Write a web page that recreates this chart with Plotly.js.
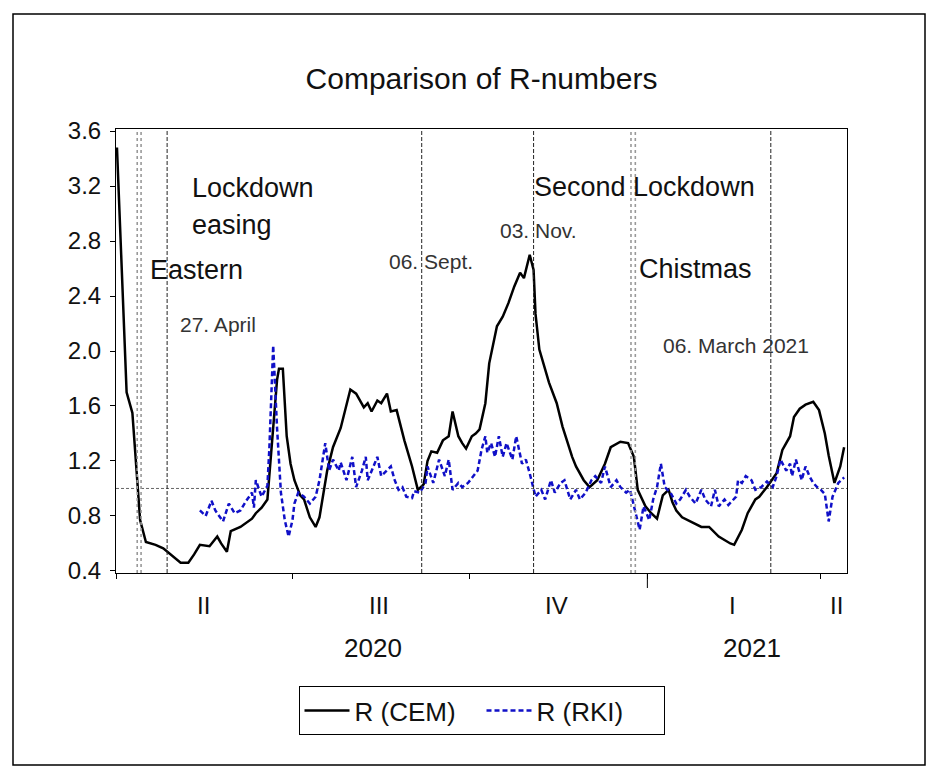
<!DOCTYPE html>
<html>
<head>
<meta charset="utf-8">
<script src="https://cdn.plot.ly/plotly-3.0.1.min.js"></script>
<style>html,body{margin:0;padding:0;background:#fff;}#chart{width:929px;height:767px;}</style>
</head>
<body>
<div id="chart"></div>
<script>
// ---- Data ----
const cemDates = ['2020-04-01','2020-04-04','2020-04-06','2020-04-09','2020-04-11','2020-04-13','2020-04-16','2020-04-21','2020-04-25','2020-04-29',
'2020-05-04','2020-05-08','2020-05-11','2020-05-14','2020-05-19','2020-05-23','2020-05-25','2020-05-28','2020-05-30',
'2020-06-04','2020-06-07','2020-06-10','2020-06-12','2020-06-15','2020-06-18','2020-06-20','2020-06-23','2020-06-24','2020-06-26','2020-06-28','2020-06-30',
'2020-07-02','2020-07-05','2020-07-07','2020-07-10','2020-07-13','2020-07-15','2020-07-19','2020-07-22','2020-07-26','2020-07-28','2020-07-31',
'2020-08-03','2020-08-07','2020-08-09','2020-08-11','2020-08-14','2020-08-16','2020-08-19','2020-08-21','2020-08-24','2020-08-28',
'2020-09-01','2020-09-04','2020-09-07','2020-09-09','2020-09-11','2020-09-14','2020-09-17','2020-09-20','2020-09-22','2020-09-25','2020-09-27','2020-09-29',
'2020-10-02','2020-10-04','2020-10-06','2020-10-09','2020-10-11','2020-10-15','2020-10-18','2020-10-21','2020-10-24','2020-10-27','2020-10-29',
'2020-11-01','2020-11-03','2020-11-04','2020-11-06','2020-11-09','2020-11-11','2020-11-15','2020-11-18','2020-11-23','2020-11-25','2020-11-29',
'2020-12-02','2020-12-06','2020-12-10','2020-12-13','2020-12-18','2020-12-22','2020-12-25','2020-12-27','2020-12-31',
'2021-01-03','2021-01-06','2021-01-09','2021-01-12','2021-01-14','2021-01-16','2021-01-19','2021-01-25','2021-01-29',
'2021-02-02','2021-02-07','2021-02-13','2021-02-15','2021-02-19','2021-02-22','2021-02-26','2021-02-28',
'2021-03-04','2021-03-09','2021-03-12','2021-03-16','2021-03-18','2021-03-21','2021-03-24','2021-03-28','2021-03-31',
'2021-04-03','2021-04-05','2021-04-08','2021-04-11','2021-04-13'];
const cemValues = [3.48,2.38,1.70,1.55,1.15,0.77,0.61,0.59,0.565,0.52,
0.46,0.46,0.52,0.59,0.58,0.65,0.60,0.54,0.69,
0.72,0.75,0.78,0.82,0.86,0.92,1.26,1.79,1.87,1.87,1.38,1.18,
1.06,0.95,0.92,0.79,0.72,0.79,1.13,1.30,1.44,1.55,1.72,
1.69,1.59,1.62,1.56,1.64,1.62,1.69,1.56,1.57,1.35,
1.16,0.99,1.03,1.20,1.27,1.26,1.35,1.38,1.56,1.38,1.33,1.29,
1.38,1.40,1.43,1.62,1.91,2.18,2.25,2.35,2.47,2.57,2.53,
2.70,2.59,2.27,2.01,1.86,1.77,1.62,1.45,1.23,1.16,1.06,
1.01,1.06,1.18,1.30,1.34,1.33,1.23,0.99,0.87,
0.82,0.78,0.95,0.99,0.90,0.84,0.79,0.75,0.72,
0.72,0.65,0.60,0.59,0.70,0.82,0.92,0.94,
1.01,1.11,1.28,1.38,1.52,1.58,1.61,1.63,1.57,
1.40,1.24,1.04,1.16,1.30];

const rkiDates = ['2020-05-14','2020-05-17','2020-05-20','2020-05-22','2020-05-26','2020-05-29',
'2020-06-01','2020-06-04','2020-06-07','2020-06-10','2020-06-11','2020-06-12','2020-06-15','2020-06-18','2020-06-19','2020-06-21','2020-06-23','2020-06-25','2020-06-27','2020-06-29',
'2020-07-01','2020-07-02','2020-07-04','2020-07-07','2020-07-10','2020-07-13','2020-07-15','2020-07-18','2020-07-20','2020-07-22','2020-07-25','2020-07-26','2020-07-29',
'2020-08-01','2020-08-03','2020-08-06','2020-08-08','2020-08-09','2020-08-12','2020-08-14','2020-08-16','2020-08-19','2020-08-21','2020-08-23','2020-08-25','2020-08-27','2020-08-29',
'2020-09-01','2020-09-02','2020-09-05','2020-09-08','2020-09-09','2020-09-12','2020-09-15','2020-09-18','2020-09-20','2020-09-22','2020-09-25','2020-09-27','2020-09-30',
'2020-10-03','2020-10-05','2020-10-07','2020-10-09','2020-10-10','2020-10-12','2020-10-14','2020-10-16','2020-10-18','2020-10-20','2020-10-23','2020-10-25','2020-10-28','2020-10-30',
'2020-11-01','2020-11-03','2020-11-04','2020-11-07','2020-11-09','2020-11-12','2020-11-14','2020-11-17','2020-11-19','2020-11-22','2020-11-25','2020-11-27','2020-11-30',
'2020-12-03','2020-12-05','2020-12-08','2020-12-10','2020-12-13','2020-12-16','2020-12-18','2020-12-21','2020-12-23','2020-12-26','2020-12-28','2020-12-30',
'2021-01-02','2021-01-04','2021-01-06','2021-01-08','2021-01-10','2021-01-13','2021-01-16','2021-01-18','2021-01-21','2021-01-23','2021-01-26','2021-01-29','2021-01-31',
'2021-02-03','2021-02-05','2021-02-07','2021-02-10','2021-02-12','2021-02-16','2021-02-17','2021-02-19','2021-02-21','2021-02-24','2021-02-26',
'2021-03-01','2021-03-04','2021-03-07','2021-03-09','2021-03-11','2021-03-14','2021-03-16','2021-03-17','2021-03-19','2021-03-22','2021-03-24','2021-03-26','2021-03-28','2021-03-30',
'2021-04-01','2021-04-03','2021-04-05','2021-04-07','2021-04-09','2021-04-10','2021-04-13'];
const rkiValues = [0.84,0.80,0.91,0.84,0.76,0.89,
0.82,0.84,0.91,0.97,0.86,1.06,0.94,1.02,1.29,2.04,1.44,0.97,0.77,0.65,
0.77,0.89,0.97,0.94,0.89,0.94,1.06,1.33,1.13,1.21,1.13,1.19,1.06,
1.23,1.01,1.13,1.23,1.06,1.16,1.23,1.09,1.13,1.16,1.06,0.99,1.01,0.94,
0.93,0.98,0.97,1.04,1.16,1.04,1.21,1.09,1.21,0.99,1.04,1.01,1.04,
1.09,1.13,1.28,1.38,1.26,1.33,1.23,1.38,1.23,1.33,1.21,1.38,1.18,1.21,
1.11,1.01,0.94,0.99,0.92,1.06,0.97,1.04,1.06,0.92,0.99,0.92,0.97,
1.06,1.09,1.04,1.16,1.01,1.06,1.01,0.97,0.99,0.82,0.70,0.87,
0.77,0.92,1.01,1.18,1.01,0.97,0.89,0.92,0.99,0.94,0.89,0.99,0.92,
0.87,0.99,0.87,0.92,0.88,0.94,1.06,1.04,1.09,1.06,0.99,
1.01,1.05,1.01,1.09,1.21,1.13,1.18,1.09,1.21,1.06,1.16,1.09,1.04,1.01,
0.99,0.96,0.76,0.94,1.01,1.04,1.08];

const seriesNames = ['R (CEM)', 'R (RKI)'];
const yTicks = [0.4, 0.8, 1.2, 1.6, 2.0, 2.4, 2.8, 3.2, 3.6];
const quarterStarts = ['2020-04-01','2020-07-01','2020-10-01','2021-01-01','2021-04-01'];
const quarterLabels = ['II','III','IV','I','II'];
const quarterLabelPos = ['2020-05-16','2020-08-15','2020-11-15','2021-02-14','2021-04-09'];
const yearLabels = ['2020','2021'];
const yearLabelPos = ['2020-08-12','2021-02-24'];
const yearBoundary = '2021-01-01';
const referenceLevel = 1.0;
const eventLines = ['2020-04-27','2020-09-06','2020-11-03','2021-03-06'];
const holidayLines = ['2020-04-11T12:00','2020-04-13T12:00','2020-12-23T12:00','2020-12-25T18:00'];
// event texts: [text, date, level, size]
const eventTexts = [
  ['Lockdown', '2020-05-09T00:00', 3.185, 'big'],
  ['easing', '2020-05-09T00:00', 2.92, 'big'],
  ['Eastern', '2020-04-17T06:00', 2.59, 'big'],
  ['27. April', '2020-05-02T18:00', 2.19, 'small'],
  ['06. Sept.', '2020-08-19T00:00', 2.65, 'small'],
  ['03. Nov.', '2020-10-15T12:00', 2.88, 'small'],
  ['Second Lockdown', '2020-11-02T06:00', 3.19, 'big'],
  ['Chistmas', '2020-12-26T12:00', 2.60, 'big'],
  ['06. March 2021', '2021-01-08T00:00', 2.04, 'small']
];

// ---- Chart ----
const FONT = 'Liberation Sans, Arial, Helvetica, sans-serif';
const plotH = 767 - 129 - 194;

const traces = [
  {x: cemDates, y: cemValues, name: seriesNames[0], type: 'scatter', mode: 'lines',
   line: {color: '#000000', width: 2.5}},
  {x: rkiDates, y: rkiValues, name: seriesNames[1], type: 'scatter', mode: 'lines',
   line: {color: '#1010c8', width: 2.5, dash: '5px,3px'}}
];

const shapes = [];
shapes.push({type: 'line', xref: 'paper', yref: 'y', x0: 0, x1: 1, y0: referenceLevel, y1: referenceLevel,
  line: {color: '#666', width: 1, dash: '3px,2px'}, layer: 'below'});
eventLines.forEach(d => shapes.push({type: 'line', xref: 'x', yref: 'paper', x0: d, x1: d, y0: 0, y1: 1,
  line: {color: '#222', width: 1, dash: '4px,2px'}}));
holidayLines.forEach(d => shapes.push({type: 'line', xref: 'x', yref: 'paper', x0: d, x1: d, y0: 0, y1: 1,
  line: {color: '#999', width: 1.6, dash: 'dot'}}));
shapes.push({type: 'line', xref: 'x', yref: 'paper', x0: yearBoundary, x1: yearBoundary, y0: 0, y1: -15 / plotH,
  line: {color: '#000', width: 1}});
// outer frame
shapes.push({type: 'rect', xref: 'paper', yref: 'paper',
  x0: (13 - 116) / 731, x1: (925 - 116) / 731, y0: (573 - 765) / plotH, y1: (573 - 14) / plotH,
  line: {color: '#000', width: 1.5}, fillcolor: 'rgba(0,0,0,0)'});

const annotations = [];
eventTexts.forEach(t => annotations.push({text: t[0], x: t[1], y: t[2], xref: 'x', yref: 'y',
  xanchor: 'left', yanchor: 'middle', showarrow: false,
  font: {family: FONT, size: t[3] === 'big' ? 27 : 21, color: t[3] === 'big' ? '#111' : '#333'}}));
quarterLabels.forEach((q, i) => annotations.push({text: q, x: quarterLabelPos[i], y: -32 / plotH,
  xref: 'x', yref: 'paper', xanchor: 'center', yanchor: 'middle', showarrow: false,
  font: {family: FONT, size: 24, color: '#111'}}));
yearLabels.forEach((yl, i) => annotations.push({text: yl, x: yearLabelPos[i], y: -75 / plotH,
  xref: 'x', yref: 'paper', xanchor: 'center', yanchor: 'middle', showarrow: false,
  font: {family: FONT, size: 26, color: '#111'}}));

const layout = {
  width: 929, height: 767,
  margin: {l: 116, r: 82, t: 129, b: 194, pad: 0},
  paper_bgcolor: '#ffffff', plot_bgcolor: '#ffffff',
  font: {family: FONT, color: '#111', size: 22},
  title: {text: 'Comparison of R-numbers', font: {family: FONT, size: 30, color: '#111'},
    x: 0.5, xref: 'paper', xanchor: 'center', y: 1 - 78 / 767, yref: 'container', yanchor: 'middle'},
  showlegend: true,
  legend: {orientation: 'h', x: 0.5, xanchor: 'center', y: -113 / plotH, yanchor: 'top',
    bordercolor: '#000', borderwidth: 1, bgcolor: '#fff', font: {family: FONT, size: 26, color: '#111'},
    itemwidth: 45, entrywidth: 122, entrywidthmode: 'pixels', tracegroupgap: 0},
  xaxis: {type: 'date', range: ['2020-03-31T12:00', '2021-04-14T12:00'],
    tickmode: 'array', tickvals: quarterStarts, ticktext: quarterStarts.map(() => ''),
    ticks: 'outside', ticklen: 5, tickwidth: 1, tickcolor: '#000',
    showline: true, linecolor: '#000', linewidth: 1, mirror: true,
    showgrid: false, zeroline: false, fixedrange: true},
  yaxis: {range: [0.385, 3.615], tickmode: 'array', tickvals: yTicks, ticktext: yTicks.map(v => v.toFixed(1)),
    ticks: 'outside', ticklen: 5, tickwidth: 1, tickcolor: '#000', ticklabelstandoff: 4,
    tickfont: {family: FONT, size: 24, color: '#111'},
    showline: true, linecolor: '#000', linewidth: 1, mirror: true,
    showgrid: false, zeroline: false, fixedrange: true},
  shapes: shapes,
  annotations: annotations
};

Plotly.newPlot('chart', traces, layout, {staticPlot: true, displayModeBar: false});
</script>
</body>
</html>
